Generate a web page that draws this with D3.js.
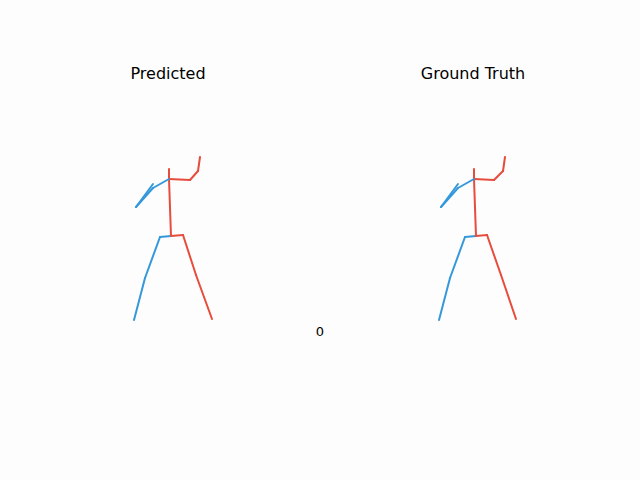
<!DOCTYPE html>
<html><head><meta charset="utf-8">
<script src="https://cdn.jsdelivr.net/npm/d3@7"></script>
<style>body{margin:0;background:#fdfdfd}svg{display:block}</style>
</head><body>
<svg id="chart" width="640" height="480"></svg>
<script>
// joints projected to screen-plane units (x right, y up), pelvis at origin
const jointNames = ['pelvis','rhip','rknee','rfoot','lhip','lknee','lfoot','neck','head','rsho','relb','rwri','lsho','lelb','lwri'];
const predX = [0, 12, 25, 41, -11, -26, -37, -2, -2, 19, 27, 29, -18, -35, -18];
const predY = [0, 1, -39, -83, -1, -42, -84, 57, 67, 56, 65, 79, 48, 29, 52];
const truthX = [0, 11, 25, 40, -11, -26, -37, -2, -2, 18, 27, 29, -18, -35, -18];
const truthY = [0, 1, -39, -83, -1, -42, -84, 57, 67, 56, 65, 79, 48, 29, 52];
const bones = [
  ['pelvis','rhip','r'],['rhip','rknee','r'],['rknee','rfoot','r'],
  ['pelvis','lhip','l'],['lhip','lknee','l'],['lknee','lfoot','l'],
  ['pelvis','neck','r'],['neck','head','r'],
  ['neck','rsho','r'],['rsho','relb','r'],['relb','rwri','r'],
  ['neck','lsho','l'],['lsho','lelb','l'],['lelb','lwri','l']
];
const titles = ['Predicted', 'Ground Truth'];
const frameLabel = '0';
const colors = {r: '#e74c3c', l: '#3498db'};

const svg = d3.select('#chart');
const panels = [
  {title: titles[0], xs: predX, ys: predY, cx: 171},
  {title: titles[1], xs: truthX, ys: truthY, cx: 476}
];

panels.forEach((p) => {
  const x = d3.scaleLinear().domain([-100, 100]).range([p.cx - 100, p.cx + 100]);
  const y = d3.scaleLinear().domain([-100, 100]).range([336, 136]);
  const pos = {};
  jointNames.forEach((n, i) => { pos[n] = [p.xs[i], p.ys[i]]; });
  svg.append('g')
    .selectAll('line')
    .data(bones)
    .enter()
    .append('line')
    .attr('x1', (b) => x(pos[b[0]][0]))
    .attr('y1', (b) => y(pos[b[0]][1]))
    .attr('x2', (b) => x(pos[b[1]][0]))
    .attr('y2', (b) => y(pos[b[1]][1]))
    .attr('stroke', (b) => colors[b[2]])
    .attr('stroke-width', 2)
    .attr('stroke-linecap', 'round');
  svg.append('text')
    .attr('x', p.cx - 3)
    .attr('y', 79)
    .attr('text-anchor', 'middle')
    .attr('font-family', 'DejaVu Sans')
    .attr('font-size', 16)
    .text(p.title);
});

svg.append('text')
  .attr('x', 320).attr('y', 336)
  .attr('text-anchor', 'middle')
  .attr('font-family', 'DejaVu Sans')
  .attr('font-size', 13)
  .text(frameLabel);
</script>
</body></html>
